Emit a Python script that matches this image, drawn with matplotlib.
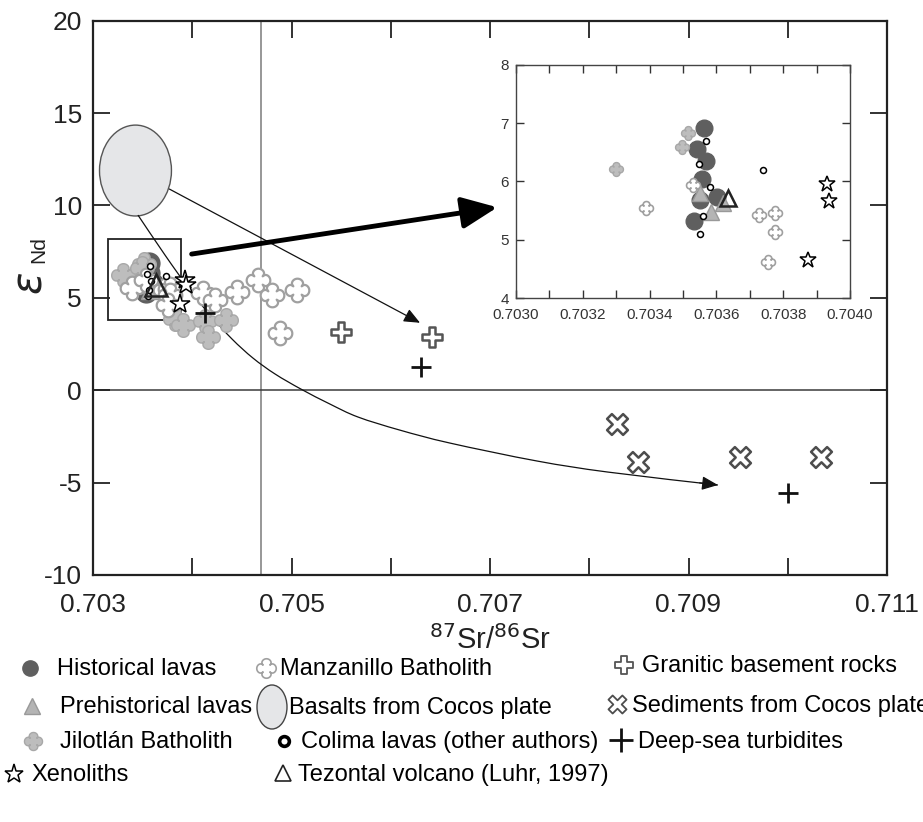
import numpy as np
import matplotlib.pyplot as plt
from matplotlib.path import Path
from matplotlib.patches import Ellipse, Rectangle, PathPatch

plt.rcParams['font.family'] = ['Liberation Sans', 'DejaVu Sans']

# ---- data (87Sr/86Sr, eps Nd) ----
hist_x = [0.703564, 0.703543, 0.703569, 0.703556, 0.703550, 0.703603, 0.703534]
hist_y = [6.91, 6.56, 6.36, 6.04, 5.69, 5.73, 5.33]

prehist_x = [0.703552, 0.703585, 0.703620]
prehist_y = [5.80, 5.47, 5.63]

jil_x = [0.703300, 0.703514, 0.703498, 0.703826, 0.703907, 0.704128, 0.704340, 0.704159]
jil_y = [6.22, 6.83, 6.60, 3.85, 3.53, 3.75, 3.80, 2.89]

manz_x = [0.703389, 0.703531, 0.703729, 0.703776, 0.703774, 0.703753,
          0.704108, 0.704229, 0.704451, 0.704662, 0.704804, 0.705055, 0.704884]
manz_y = [5.55, 5.94, 5.42, 5.46, 5.13, 4.62,
          5.26, 4.88, 5.31, 5.96, 5.15, 5.42, 3.10]

colima_x = [0.703570, 0.703549, 0.703580, 0.703740, 0.703560, 0.703550]
colima_y = [6.70, 6.30, 5.90, 6.20, 5.40, 5.10]

xeno_x = [0.703930, 0.703938, 0.703875]
xeno_y = [5.96, 5.67, 4.66]

tez_x = [0.703634]
tez_y = [5.71]

gran_x = [0.705496, 0.706414]
gran_y = [3.17, 2.90]

sed_x = [0.708277, 0.708488, 0.709519, 0.710335]
sed_y = [-1.83, -3.90, -3.63, -3.60]

turb_x = [0.704128, 0.706305, 0.710003]
turb_y = [4.18, 1.25, -5.56]

# Cocos plate basalt field
basalt_center = (0.703428, 11.89)
basalt_w, basalt_h = 0.000725, 4.92

bulk_earth_sr = 0.70469

# mixing curve, points
curve_x = [0.703453, 0.703725, 0.703977, 0.704179, 0.704401, 0.704612, 0.704834,
           0.705096, 0.705388, 0.705670, 0.706093, 0.706597, 0.707473, 0.708189,
           0.709297]
curve_y = [9.48, 7.32, 5.42, 4.07, 2.77, 1.74, 0.88, 0.06, -0.75, -1.45, -2.16,
           -2.86, -3.83, -4.43, -5.13]


# ---- custom marker shapes ----
def quatrefoil():
    t = np.linspace(0, 2 * np.pi, 121)
    r = 0.5 + 0.5 * np.abs(np.cos(2 * t)) ** 0.45
    return Path(np.column_stack([r * np.cos(t), r * np.sin(t)]), closed=True)


def plus_shape(a=0.34, rot=0.0):
    v = np.array([(-a, 1), (a, 1), (a, a), (1, a), (1, -a), (a, -a), (a, -1),
                  (-a, -1), (-a, -a), (-1, -a), (-1, a), (-a, a), (-a, 1)])
    c, s = np.cos(rot), np.sin(rot)
    v = v @ np.array([[c, s], [-s, c]])
    return Path(v, closed=True)


def smooth_path(xs, ys):
    # Catmull-Rom through the read points, as cubic bezier segments
    p = np.column_stack([xs, ys])
    verts = [p[0]]
    codes = [Path.MOVETO]
    for i in range(len(p) - 1):
        p0 = p[max(i - 1, 0)]
        p1, p2 = p[i], p[i + 1]
        p3 = p[min(i + 2, len(p) - 1)]
        verts += [p1 + (p2 - p0) / 6, p2 - (p3 - p1) / 6, p2]
        codes += [Path.CURVE4] * 3
    return Path(verts, codes)


QF = quatrefoil()
GPLUS = plus_shape(0.36)
XSHAPE = plus_shape(0.30, np.pi / 4)

HIST_C = '#5f5f5f'
PRE_C = '#b4b4b4'
JIL_C = '#bdbdbd'
MANZ_C = '#a0a0a0'


def draw_groups(ax, big):
    ax.plot(hist_x, hist_y, 'o', ms=15 if big else 12, mfc=HIST_C, mec=HIST_C, ls='none', zorder=3)
    ax.plot(prehist_x, prehist_y, '^', ms=14 if big else 11, mfc=PRE_C, mec='#999999', mew=1,
            ls='none', zorder=4)
    ax.plot(jil_x, jil_y, marker=QF, ms=17 if big else 10, mfc=JIL_C, mec='#a8a8a8', mew=1,
            ls='none', zorder=5)
    ax.plot(manz_x, manz_y, marker=QF, ms=17 if big else 10, mfc='white', mec=MANZ_C,
            mew=1.6 if big else 1.2, ls='none', zorder=6)
    ax.plot(colima_x, colima_y, 'o', ms=4.3, mfc='white', mec='black', mew=1.1, ls='none', zorder=7)
    ax.plot(xeno_x, xeno_y, '*', ms=15 if big else 12, mfc='white', mec='black', mew=1.1,
            ls='none', zorder=8)
    ax.plot(tez_x, tez_y, '^', ms=16 if big else 12, mfc='none', mec='#222222', mew=1.8,
            ls='none', zorder=9)


fig = plt.figure(figsize=(9.23, 8.22), dpi=100)

# overlay for the legend (pixel coordinates)
lax = fig.add_axes([0, 0, 1, 1])
lax.set_xlim(0, 923)
lax.set_ylim(822, 0)
lax.axis('off')

# ---- main axes ----
ax = fig.add_axes([93 / 923, 1 - 575 / 822, 794 / 923, 554.3 / 822])
ax.set_xlim(0.703, 0.711)
ax.set_ylim(-10, 20)
ax.axvline(bulk_earth_sr, color='#7a7a7a', lw=1.1, zorder=1)
ax.axhline(0, color='#3a3a3a', lw=1.1, zorder=1)

ax.add_patch(Ellipse(basalt_center, basalt_w, basalt_h, facecolor='#e5e6e8',
                     edgecolor='#555555', lw=1, zorder=2))
ax.add_patch(Rectangle((0.703154, 3.80), 0.000733, 4.37, fill=False,
                       edgecolor='#222222', lw=1.3, zorder=2))

draw_groups(ax, True)
ax.plot(gran_x, gran_y, marker=GPLUS, ms=14, mfc='white', mec='#555555', mew=1.8, ls='none', zorder=6)
ax.plot(sed_x, sed_y, marker=XSHAPE, ms=15, mfc='white', mec='#4d4d4d', mew=1.8, ls='none', zorder=6)
ax.plot(turb_x, turb_y, '+', ms=14, mec='#111111', mew=2.0, ls='none', zorder=10)

# mixing lines / arrows
cpath = smooth_path(curve_x, curve_y)
ax.add_patch(PathPatch(cpath, fill=False, edgecolor='#111111', lw=0.9, zorder=2))
tail = cpath.vertices[-2]
ax.annotate('', xy=(curve_x[-1], curve_y[-1]), xytext=tuple(tail),
            arrowprops=dict(arrowstyle='-|>,head_length=0.7,head_width=0.3', color='#111111',
                            lw=0.9, shrinkA=0, shrinkB=0, mutation_scale=14), zorder=2)
ax.annotate('', xy=(0.706295, 3.65), xytext=(0.703769, 10.89),
            arrowprops=dict(arrowstyle='-|>,head_length=0.7,head_width=0.3', color='#111111',
                            lw=0.9, shrinkA=0, shrinkB=0, mutation_scale=14), zorder=2)
ax.annotate('', xy=(0.707074, 9.90), xytext=(0.703994, 7.37),
            arrowprops=dict(arrowstyle='-|>,head_length=0.9,head_width=0.4', color='black',
                            lw=3.5, shrinkA=0, shrinkB=0, mutation_scale=24), zorder=11)

ax.set_xticks(np.arange(0.703, 0.71101, 0.001))
ax.set_xticklabels(['0.703', '', '0.705', '', '0.707', '', '0.709', '', '0.711'])
ax.set_yticks([-10, -5, 0, 5, 10, 15, 20])
ax.set_yticklabels(['-10', '-5', '0', '5', '10', '15', '20'])
ax.tick_params(direction='in', length=12, width=1.3, top=True, right=True,
               labelsize=19, colors='#222222')
ax.tick_params(axis='x', pad=13)
ax.tick_params(axis='y', pad=8)
for sp in ax.spines.values():
    sp.set_linewidth(1.6)
    sp.set_color('#222222')

fig.text(30, 822 - 283, r'$\varepsilon$', transform=None, fontsize=30, rotation=90,
         ha='center', va='center', color='#222222')
fig.text(39, 822 - 250, 'Nd', transform=None, fontsize=15, rotation=90,
         ha='center', va='center', color='#222222')
ax.set_xlabel(r'$^{87}$Sr/$^{86}$Sr', fontsize=21, labelpad=6, color='#222222')

# ---- inset ----
ins = fig.add_axes([516 / 923, 1 - 298 / 822, 334 / 923, 233 / 822])
ins.set_xlim(0.7030, 0.7040)
ins.set_ylim(4, 8)
draw_groups(ins, False)
ins.set_xticks(np.arange(0.7030, 0.70401, 0.0001))
ins.set_xticklabels(['0.7030', '', '0.7032', '', '0.7034', '', '0.7036', '', '0.7038', '', '0.7040'])
ins.set_yticks([4, 5, 6, 7, 8])
ins.tick_params(direction='in', length=6, width=1, top=True, right=True,
                labelsize=11, colors='#333333')
ins.tick_params(axis='x', pad=7)
ins.tick_params(axis='y', pad=5)
for sp in ins.spines.values():
    sp.set_linewidth(1)
    sp.set_color('#444444')

# ---- legend ----
fs = 17
lax.plot([30], [668], 'o', ms=11, mfc=HIST_C, mec=HIST_C)
lax.text(57, 669, 'Historical lavas', fontsize=fs, va='center')
lax.plot([32], [706], '^', ms=12, mfc=PRE_C, mec='#999999')
lax.text(60, 707, 'Prehistorical lavas', fontsize=fs, va='center')
lax.plot([33], [741], marker=QF, ms=13, mfc=JIL_C, mec='#a8a8a8')
lax.text(60, 742, 'Jilotlán Batholith', fontsize=fs, va='center')
lax.plot([14], [774], '*', ms=14, mfc='white', mec='black', mew=1.1)
lax.text(31, 775, 'Xenoliths', fontsize=fs, va='center')

lax.plot([266], [668], marker=QF, ms=14, mfc='white', mec=MANZ_C, mew=1.2)
lax.text(280, 669, 'Manzanillo Batholith', fontsize=fs, va='center')
lax.add_patch(Ellipse((272, 707), 30, 44, facecolor='#e5e6e8', edgecolor='#444444', lw=1))
lax.text(289, 708, 'Basalts from Cocos plate', fontsize=fs, va='center')
lax.plot([284], [741], 'o', ms=7, mfc='white', mec='black', mew=2.6)
lax.text(301, 742, 'Colima lavas (other authors)', fontsize=fs, va='center')
lax.plot([283], [773], '^', ms=12, mfc='none', mec='#222222', mew=1.2)
lax.text(298, 775, 'Tezontal volcano (Luhr, 1997)', fontsize=fs, va='center')

lax.plot([624], [665], marker=GPLUS, ms=13, mfc='white', mec='#555555', mew=1.3)
lax.text(642, 666, 'Granitic basement rocks', fontsize=fs, va='center')
lax.plot([617], [704], marker=XSHAPE, ms=13, mfc='white', mec='#4d4d4d', mew=1.3)
lax.text(632, 706, 'Sediments from Cocos plate', fontsize=fs, va='center')
lax.plot([621], [740], '+', ms=17, mec='#111111', mew=2)
lax.text(638, 742, 'Deep-sea turbidites', fontsize=fs, va='center')

fig.savefig('out.png', dpi=100)
